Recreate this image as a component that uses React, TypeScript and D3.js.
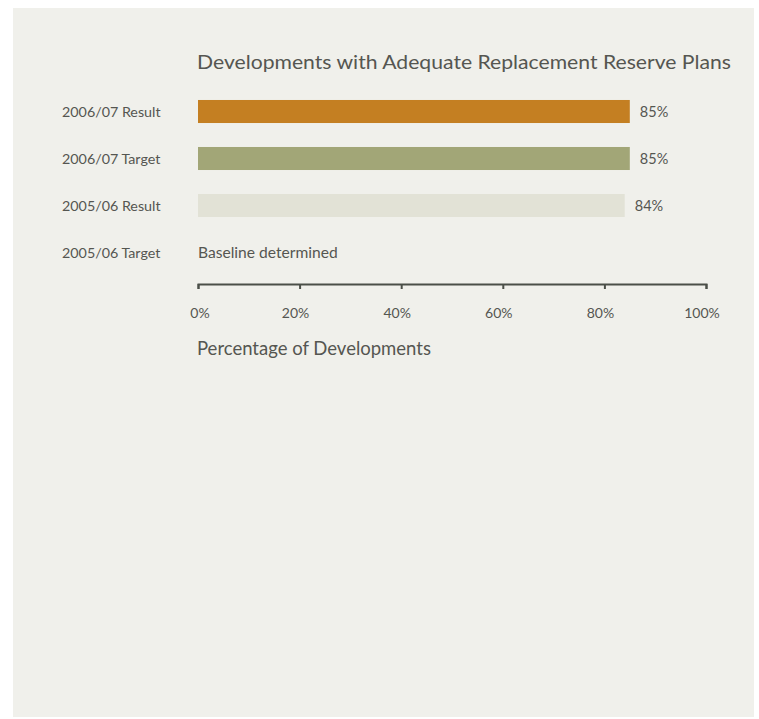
import React, { useEffect, useRef } from "react";
import * as d3 from "d3";

const title = "Developments with Adequate Replacement Reserve Plans";
const categories = ["2006/07 Result", "2006/07 Target", "2005/06 Result", "2005/06 Target"];
const values: (number | null)[] = [85, 85, 84, null];
const notes = ["", "", "", "Baseline determined"];
const barColors = ["#C47F22", "#A2A677", "#E2E2D6", "#E2E2D6"];
const tickValues = [0, 20, 40, 60, 80, 100];
const xAxisTitle = "Percentage of Developments";

const W = 759;
const H = 719;
const FONT = "Lato, 'Open Sans', sans-serif";
const TEXT = "#555651";

export default function App() {
  const axisRef = useRef<SVGGElement>(null);
  const x = d3.scaleLinear().domain([0, 100]).range([198, 706]);
  const y = d3.scaleBand<string>().domain(categories).range([88, 276]).paddingInner(0.51).paddingOuter(0.255);

  useEffect(() => {
    if (!axisRef.current) return;
    const g = d3.select(axisRef.current);
    g.call(d3.axisBottom(x).tickValues(tickValues).tickSize(5).tickSizeOuter(5).tickFormat(() => ""));
    g.select(".domain").attr("stroke", "#4B4F48").attr("stroke-width", 2);
    g.selectAll(".tick line").attr("stroke", "#4B4F48").attr("stroke-width", 2);
  }, []);

  return (
    <svg width={W} height={H} style={{ position: "absolute", left: 0, top: 0 }} fontFamily={FONT}>
      <rect x={13} y={8} width={741} height={709} fill="#F0F0EB" />
      <text x={197} y={69} fontSize={20} fill={TEXT} textLength={534} lengthAdjust="spacingAndGlyphs">{title}</text>
      {categories.map((c, i) => {
        const yc = (y(c) as number) + y.bandwidth() / 2;
        const v = values[i];
        return (
          <g key={c}>
            <text x={62} y={yc + 5} fontSize={14.3} fill={TEXT}>{c}</text>
            {v !== null && (
              <>
                <rect x={x(0)} y={y(c)} width={x(v) - x(0)} height={y.bandwidth()} fill={barColors[i]} />
                <text x={x(v) + 10} y={yc + 5} fontSize={14.5} fill={TEXT}>{v}%</text>
              </>
            )}
            {v === null && (
              <text x={x(0)} y={yc + 5.5} fontSize={15.6} fill={TEXT}>{notes[i]}</text>
            )}
          </g>
        );
      })}
      <g ref={axisRef} transform="translate(0,284)" />
      {tickValues.map((t) => (
        <text key={t} x={x(t) - (t === 0 ? -2 : 4)} y={318} fontSize={14} fill={TEXT} textAnchor="middle">{t}%</text>
      ))}
      <text x={197} y={355} fontSize={18.5} fill={TEXT}>{xAxisTitle}</text>
    </svg>
  );
}
